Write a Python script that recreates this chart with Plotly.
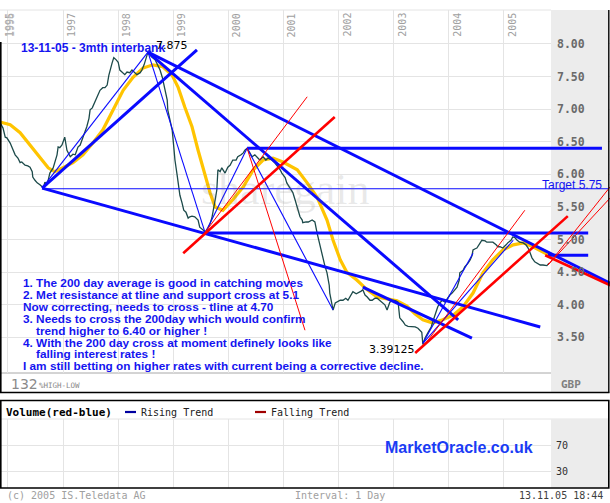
import plotly.graph_objects as go

# ---------------- data ----------------
# 3-month GBP interbank rate (decimal year, %)
price_dates = [
    1995.87, 1995.91, 1995.95, 1995.98, 1996.04, 1996.09, 1996.13, 1996.18, 1996.22, 1996.25,
    1996.31, 1996.36, 1996.40, 1996.44, 1996.45, 1996.49, 1996.53, 1996.58, 1996.62, 1996.65,
    1996.67, 1996.71, 1996.76, 1996.82, 1996.85, 1996.89, 1996.91, 1996.94, 1996.98,
    1997.02, 1997.03, 1997.07, 1997.13, 1997.18, 1997.22, 1997.25, 1997.27, 1997.31, 1997.36,
    1997.40, 1997.43, 1997.47, 1997.49, 1997.53, 1997.58, 1997.62, 1997.67, 1997.72, 1997.76,
    1997.80, 1997.83, 1997.89, 1997.92, 1997.96,
    1998.00, 1998.03, 1998.07, 1998.12, 1998.16, 1998.21, 1998.25, 1998.31, 1998.34, 1998.40,
    1998.43, 1998.47, 1998.51, 1998.54, 1998.58, 1998.61, 1998.67, 1998.70, 1998.76, 1998.80,
    1998.83, 1998.85, 1998.89, 1998.90, 1998.94, 1998.98,
    1999.01, 1999.03, 1999.07, 1999.09, 1999.12, 1999.16, 1999.19, 1999.23, 1999.27, 1999.30,
    1999.34, 1999.39, 1999.45, 1999.48, 1999.54, 1999.58, 1999.63, 1999.67, 1999.70, 1999.72,
    1999.76, 1999.79, 1999.81, 1999.85, 1999.88, 1999.94, 1999.99,
    2000.03, 2000.08, 2000.14, 2000.17, 2000.23, 2000.27, 2000.30, 2000.34, 2000.39, 2000.43,
    2000.48, 2000.54, 2000.57, 2000.63, 2000.68, 2000.72, 2000.79, 2000.85, 2000.88, 2000.94,
    2000.97,
    2001.03, 2001.06, 2001.12, 2001.17, 2001.21, 2001.25, 2001.28, 2001.30, 2001.34, 2001.35,
    2001.41, 2001.45, 2001.52, 2001.57, 2001.61, 2001.64, 2001.66, 2001.70, 2001.72, 2001.75,
    2001.79, 2001.83, 2001.84, 2001.88, 2001.90, 2001.94, 2001.97,
    2002.03, 2002.08, 2002.13, 2002.17, 2002.23, 2002.26, 2002.32, 2002.35, 2002.41, 2002.44,
    2002.48, 2002.52, 2002.57, 2002.61, 2002.66, 2002.70, 2002.75, 2002.79, 2002.84, 2002.88,
    2002.93, 2002.99,
    2003.04, 2003.08, 2003.11, 2003.17, 2003.21, 2003.26, 2003.33, 2003.39, 2003.44, 2003.48,
    2003.51, 2003.53, 2003.57, 2003.62, 2003.68, 2003.71, 2003.77, 2003.80, 2003.84, 2003.88,
    2003.93, 2003.99,
    2004.02, 2004.06, 2004.11, 2004.15, 2004.19, 2004.20, 2004.26, 2004.29, 2004.35, 2004.39,
    2004.42, 2004.44, 2004.48, 2004.51, 2004.57, 2004.60, 2004.66, 2004.69, 2004.75, 2004.80,
    2004.86, 2004.89, 2004.93, 2004.98,
    2005.04, 2005.07, 2005.13, 2005.16, 2005.20, 2005.24, 2005.29, 2005.35, 2005.40, 2005.44,
    2005.47, 2005.51, 2005.56, 2005.60, 2005.66, 2005.71, 2005.75, 2005.78, 2005.82,
]
price_values = [
    6.77, 6.71, 6.57, 6.56, 6.48, 6.38, 6.30, 6.25, 6.18, 6.19,
    6.14, 6.13, 6.11, 6.04, 5.96, 5.91, 5.87, 5.84, 5.81, 5.82,
    5.88, 5.84, 6.02, 6.10, 6.19, 6.30, 6.42, 6.41, 6.45,
    6.53, 6.57, 6.37, 6.27, 6.31, 6.30, 6.37, 6.42, 6.45, 6.57,
    6.64, 6.73, 6.86, 6.99, 7.02, 7.11, 7.19, 7.29, 7.33, 7.33,
    7.37, 7.52, 7.71, 7.79, 7.76,
    7.72, 7.60, 7.57, 7.53, 7.57, 7.56, 7.60, 7.56, 7.53, 7.56,
    7.60, 7.68, 7.80, 7.875, 7.83, 7.80, 7.76, 7.71, 7.60, 7.49,
    7.37, 7.29, 7.14, 6.99, 6.83, 6.68,
    6.41, 6.22, 5.99, 5.87, 5.68, 5.56, 5.45, 5.42, 5.33, 5.35,
    5.36, 5.35, 5.30, 5.19, 5.15, 5.12, 5.18, 5.25, 5.33, 5.41,
    5.61, 5.76, 6.07, 6.04, 6.10, 6.02, 6.11,
    6.14, 6.22, 6.22, 6.27, 6.30, 6.33, 6.37, 6.40, 6.33, 6.27,
    6.30, 6.25, 6.22, 6.27, 6.22, 6.25, 6.22, 6.17, 6.14, 6.07,
    6.02,
    5.95, 5.87, 5.79, 5.72, 5.61, 5.50, 5.42, 5.35, 5.30, 5.26,
    5.27, 5.27, 5.30, 5.27, 5.10, 4.99, 4.95, 4.81, 4.69, 4.60,
    4.49, 4.30, 4.18, 4.03, 3.92, 4.03, 4.04,
    4.07, 4.07, 4.10, 4.07, 4.15, 4.20, 4.17, 4.18, 4.21, 4.23,
    4.15, 4.12, 4.07, 4.07, 4.10, 4.10, 4.06, 4.04, 4.00, 3.92,
    4.04, 4.07,
    4.06, 4.04, 3.80, 3.74, 3.69, 3.67, 3.66, 3.66, 3.64, 3.61,
    3.58, 3.39125, 3.49, 3.57, 3.66, 3.74, 3.89, 3.97, 4.03, 4.07,
    4.04, 4.12,
    4.15, 4.18, 4.23, 4.27, 4.38, 4.49, 4.53, 4.58, 4.64, 4.69,
    4.75, 4.84, 4.86, 4.87, 4.95, 4.99, 4.98, 4.96, 4.96, 4.96,
    4.92, 4.89, 4.89, 4.87,
    4.92, 4.95, 4.99, 5.04, 5.03, 4.99, 4.96, 4.95, 4.92, 4.87,
    4.81, 4.72, 4.66, 4.64, 4.61, 4.61, 4.60, 4.60, 4.64,
]

# 200 day moving average
ma_dates = [
    1995.87, 1996.04, 1996.22, 1996.40, 1996.58, 1996.73, 1996.85, 1997.00, 1997.18, 1997.36,
    1997.54, 1997.72, 1997.91, 1998.09, 1998.27, 1998.45, 1998.63, 1998.81, 1998.98, 1999.09,
    1999.21, 1999.34, 1999.45, 1999.58, 1999.67, 1999.76, 1999.90, 2000.08, 2000.27, 2000.45,
    2000.63, 2000.81, 2000.99, 2001.25, 2001.43, 2001.61, 2001.79, 2001.90, 2002.03, 2002.15,
    2002.33, 2002.52, 2002.70, 2002.88, 2003.06, 2003.24, 2003.39, 2003.53, 2003.71, 2003.89,
    2004.08, 2004.26, 2004.44, 2004.62, 2004.80, 2004.98, 2005.17, 2005.35, 2005.53, 2005.71,
    2005.84,
]
ma_values = [
    6.80, 6.76, 6.64, 6.45, 6.25, 6.10, 6.04, 6.10, 6.18, 6.30,
    6.48, 6.68, 6.99, 7.29, 7.49, 7.63, 7.68, 7.65, 7.52, 7.33,
    7.03, 6.73, 6.37, 5.99, 5.71, 5.50, 5.45, 5.61, 5.81, 6.07,
    6.22, 6.25, 6.19, 6.07, 5.87, 5.65, 5.30, 4.99, 4.69, 4.50,
    4.38, 4.23, 4.12, 4.09, 4.06, 3.98, 3.86, 3.77, 3.72, 3.77,
    3.84, 3.97, 4.18, 4.49, 4.69, 4.84, 4.92, 4.95, 4.89, 4.81,
    4.75,
]

# hand-drawn trend lines: (date0, value0, date1, value1)
blue_thick_lines = [
    (1996.62, 5.79, 1999.43, 7.91),
    (1996.62, 5.79, 2005.66, 3.66),
    (1998.54, 7.875, 2006.93, 4.33),
    (1998.54, 7.875, 2004.17, 3.77),
    (2000.34, 6.40, 2006.78, 6.40),
    (1999.54, 5.10, 2006.53, 5.10),
    (2005.80, 4.76, 2006.53, 4.76),
    (2002.44, 4.27, 2004.42, 3.49),
]
blue_thin_lines = [
    (1996.62, 5.78, 2006.89, 5.78),
    (1996.62, 5.79, 1998.54, 7.875),
    (1998.54, 7.875, 1999.58, 5.10),
    (1999.58, 5.10, 2000.34, 6.40),
    (2000.34, 6.40, 2001.90, 3.92),
    (2003.53, 3.41, 2004.44, 4.79),
    (2003.53, 3.41, 2005.17, 4.99),
]
red_thick_lines = [
    (1999.18, 4.79, 2001.93, 6.88),
    (2003.39, 3.26, 2006.16, 5.36),
    (2005.75, 4.76, 2006.93, 4.30),
]
red_thin_lines = [
    (1999.54, 5.07, 2001.43, 7.19),
    (2000.34, 6.40, 2001.39, 3.61),
    (2003.53, 3.35, 2005.38, 5.45),
    (2005.80, 4.61, 2006.93, 5.81),
    (2005.80, 4.61, 2006.93, 5.64),
]

year_ticks = [1996, 1997, 1998, 1999, 2000, 2001, 2002, 2003, 2004, 2005]
year_labels = ["1997", "1998", "1999", "2000", "2001", "2002", "2003", "2004", "2005"]
year_label_pos = [1997, 1998, 1999, 2000, 2001, 2002, 2003, 2004, 2005]
y_ticks = [3.5, 4.0, 4.5, 5.0, 5.5, 6.0, 6.5, 7.0, 7.5, 8.0]
y_tick_labels = ["3.50", "4.00", "4.50", "5.00", "5.50", "6.00", "6.50", "7.00", "7.50", "8.00"]
vol_ticks = [30, 70]
vol_tick_labels = ["30", "70"]

notes = [
    "1. The 200 day average is good in catching moves",
    "2. Met resistance at tline and support cross at 5.1",
    "Now correcting, needs to cross - tline at 4.70",
    "3. Needs to cross the 200day which would confirm",
    "trend higher to 6.40 or higher !",
    "4. With the 200 day cross at moment definely looks like",
    "falling interest rates !",
    "I am still betting on higher rates with current being a corrective decline.",
]
notes_indent = [0, 0, 0, 0, 1, 0, 1, 0]

assert len(price_dates) == len(price_values)
assert len(ma_dates) == len(ma_values)

# ---------------- geometry helpers ----------------
W, H = 610, 503
X0, X1 = 1995.855, 2006.926
Y0, Y1 = 2.954, 8.521
V0, V1 = 3.85, 110.0


def px(x):
    return x / W


def py(y):
    return 1 - y / H


def xd(x):
    return X0 + x / W * (X1 - X0)


MONO = "DejaVu Sans Mono"
SANS = "Liberation Sans, Arial"
BLUE = "#1414f0"

fig = go.Figure()

fig.add_trace(go.Scatter(x=ma_dates, y=ma_values, mode="lines",
                         line=dict(color="#ffc400", width=3.2), hoverinfo="skip"))
fig.add_trace(go.Scatter(x=price_dates, y=price_values, mode="lines",
                         line=dict(color="#1c4a4a", width=1.3), hoverinfo="skip"))


def seg_trace(segs, color, width):
    xs, ys = [], []
    for a, b, c, d in segs:
        xs += [a, c, None]
        ys += [b, d, None]
    return go.Scatter(x=xs, y=ys, mode="lines", line=dict(color=color, width=width),
                      hoverinfo="skip", connectgaps=False)


fig.add_trace(seg_trace(blue_thin_lines, "#0a0aff", 1.1))
fig.add_trace(seg_trace(blue_thick_lines, "#0a0aff", 3))
fig.add_trace(seg_trace(red_thin_lines, "#ff0000", 1))
fig.add_trace(seg_trace(red_thick_lines, "#ff0000", 2.6))

# empty volume panel
fig.add_trace(go.Scatter(x=[], y=[], xaxis="x2", yaxis="y2", mode="lines", hoverinfo="skip"))

grid = "#e4e4e4"
axis_common = dict(showticklabels=False, ticks="", showgrid=True, gridcolor=grid, gridwidth=1,
                   zeroline=False, showline=False, fixedrange=True)

fig.update_layout(
    template="none",
    width=W, height=H,
    margin=dict(l=0, r=0, t=0, b=0),
    paper_bgcolor="white", plot_bgcolor="white",
    showlegend=False,
    xaxis=dict(domain=[0, 1], range=[X0, X1], tickvals=year_ticks, anchor="y", **axis_common),
    yaxis=dict(domain=[py(373), py(10)], range=[Y0, Y1], tickvals=y_ticks, anchor="x", **axis_common),
    xaxis2=dict(domain=[0, 1], range=[X0, X1], tickvals=year_ticks, anchor="y2", **axis_common),
    yaxis2=dict(domain=[py(488), py(419)], range=[V0, V1], tickvals=vol_ticks, anchor="x2", **axis_common),
)

shapes = []
GRAY = "#ececec"
# grey axis strip (main panel)
shapes.append(dict(type="rect", xref="paper", yref="paper", x0=px(551), x1=px(608), y0=py(393), y1=py(10),
                   fillcolor=GRAY, line=dict(width=0), layer="below"))
shapes.append(dict(type="rect", xref="x", yref="y", x0=xd(551), x1=xd(608), y0=Y0, y1=Y1,
                   fillcolor=GRAY, line=dict(width=0), layer="between"))
# top and bottom rules of the price plot
shapes.append(dict(type="line", xref="paper", yref="paper", x0=0, x1=px(551), y0=py(10), y1=py(10),
                   line=dict(color=grid, width=1), layer="below"))
shapes.append(dict(type="line", xref="paper", yref="paper", x0=0, x1=px(551), y0=py(373), y1=py(373),
                   line=dict(color="#a8a8a8", width=1), layer="below"))
# main panel frame
shapes.append(dict(type="line", xref="paper", yref="paper", x0=px(0.8), x1=px(0.8), y0=py(392.5), y1=py(42),
                   line=dict(color="black", width=1.6)))
shapes.append(dict(type="line", xref="paper", yref="paper", x0=0, x1=px(609.5), y0=py(392.5), y1=py(392.5),
                   line=dict(color="black", width=1.6)))
shapes.append(dict(type="line", xref="paper", yref="paper", x0=px(608.8), x1=px(608.8), y0=py(392.5), y1=py(10),
                   line=dict(color="black", width=1.4)))
# volume panel
shapes.append(dict(type="rect", xref="paper", yref="paper", x0=px(551), x1=px(608), y0=py(488), y1=py(419.5),
                   fillcolor=GRAY, line=dict(width=0), layer="below"))
shapes.append(dict(type="rect", xref="x2", yref="y2", x0=xd(551), x1=xd(608), y0=V0, y1=V1,
                   fillcolor=GRAY, line=dict(width=0), layer="between"))
shapes.append(dict(type="line", xref="paper", yref="paper", x0=0, x1=px(608), y0=py(419), y1=py(419),
                   line=dict(color=grid, width=1), layer="below"))
shapes.append(dict(type="rect", xref="paper", yref="paper", x0=px(0.8), x1=px(608.8), y0=py(488), y1=py(400.5),
                   line=dict(color="black", width=1.6)))
# legend swatches
shapes.append(dict(type="line", xref="paper", yref="paper", x0=px(125), x1=px(136), y0=py(412), y1=py(412),
                   line=dict(color="#0000a0", width=2.2)))
shapes.append(dict(type="line", xref="paper", yref="paper", x0=px(255), x1=px(266), y0=py(412), y1=py(412),
                   line=dict(color="#a00000", width=2.2)))
fig.update_layout(shapes=shapes)

ann = []


def text(x, y, s, size, color, family, xanchor="left", xref="paper", yref="paper", **kw):
    ann.append(dict(x=x, y=y, xref=xref, yref=yref, text=s, showarrow=False, xanchor=xanchor,
                    yanchor="middle", font=dict(size=size, color=color, family=family), **kw))


# year labels (rotated)
for yr, lab in zip(year_label_pos, year_labels):
    text(yr, py(25), lab, 10, "#a0a0a0", MONO, xanchor="center", xref="x", xshift=9, textangle=-90)
text(px(10), py(25), "1995", 10, "#a0a0a0", MONO, xanchor="center", textangle=-90)
text(px(11), py(25), "1996", 10, "#b4b4b4", MONO, xanchor="center", textangle=-90)

# y tick labels
for v, lab in zip(y_ticks, y_tick_labels):
    text(px(555), v, "<b>" + lab + "</b>", 11.5, "#6a6a6a", MONO, yref="y")
for v, lab in zip(vol_ticks, vol_tick_labels):
    text(px(554), v, lab, 10, "#303030", MONO, yref="y2")

# watermark
text(px(285), py(190), "sharegain", 44, "rgba(120,120,120,0.16)", "Liberation Serif, Times New Roman",
     xanchor="center")

# titles and labels
text(px(19), py(48), "<b>13-11-05 - 3mth interbank</b>", 12, BLUE, SANS)
text(px(154), py(45), "7.875", 11, "black", "DejaVu Sans")
text(px(417), py(349), "3.39125", 11, "black", "DejaVu Sans", xanchor="right")
text(px(604), py(185), "Target 5.75", 12, BLUE, SANS, xanchor="right")

for i, (line_txt, ind) in enumerate(zip(notes, notes_indent)):
    text(px(34 if ind else 21), py(283 + i * 11.9), "<b>" + line_txt + "</b>", 11.8, BLUE, SANS)

text(px(9), py(384), "132", 14, "#8a8a8a", "DejaVu Sans")
text(px(37), py(385.5), "%HIGH-LOW", 7.5, "#8a8a8a", MONO)
text(px(559), py(384), "<b>GBP</b>", 11, "#808080", MONO)

# volume legend
text(px(4), py(412), "<b>Volume(red-blue)</b>", 11, "black", MONO)
text(px(139), py(412), "Rising Trend", 10, "#202020", MONO)
text(px(269), py(412), "Falling Trend", 10, "#202020", MONO)
text(px(459), py(447), "<b>MarketOracle.co.uk</b>", 16, "#1a3cf5", SANS, xanchor="center")

# footer
text(px(5), py(495.5), "(c) 2005 IS.Teledata AG", 10, "#a0a0a0", MONO)
text(px(340), py(495.5), "Interval: 1 Day", 10, "#a0a0a0", MONO, xanchor="center")
text(px(605), py(495.5), "13.11.05 18:44", 10, "#404040", MONO, xanchor="right")

fig.update_layout(annotations=ann)

fig.write_html(
    "out.html",
    config={"displayModeBar": False, "staticPlot": True},
    post_script="document.body.style.margin='0px';document.body.style.overflow='hidden';",
)
